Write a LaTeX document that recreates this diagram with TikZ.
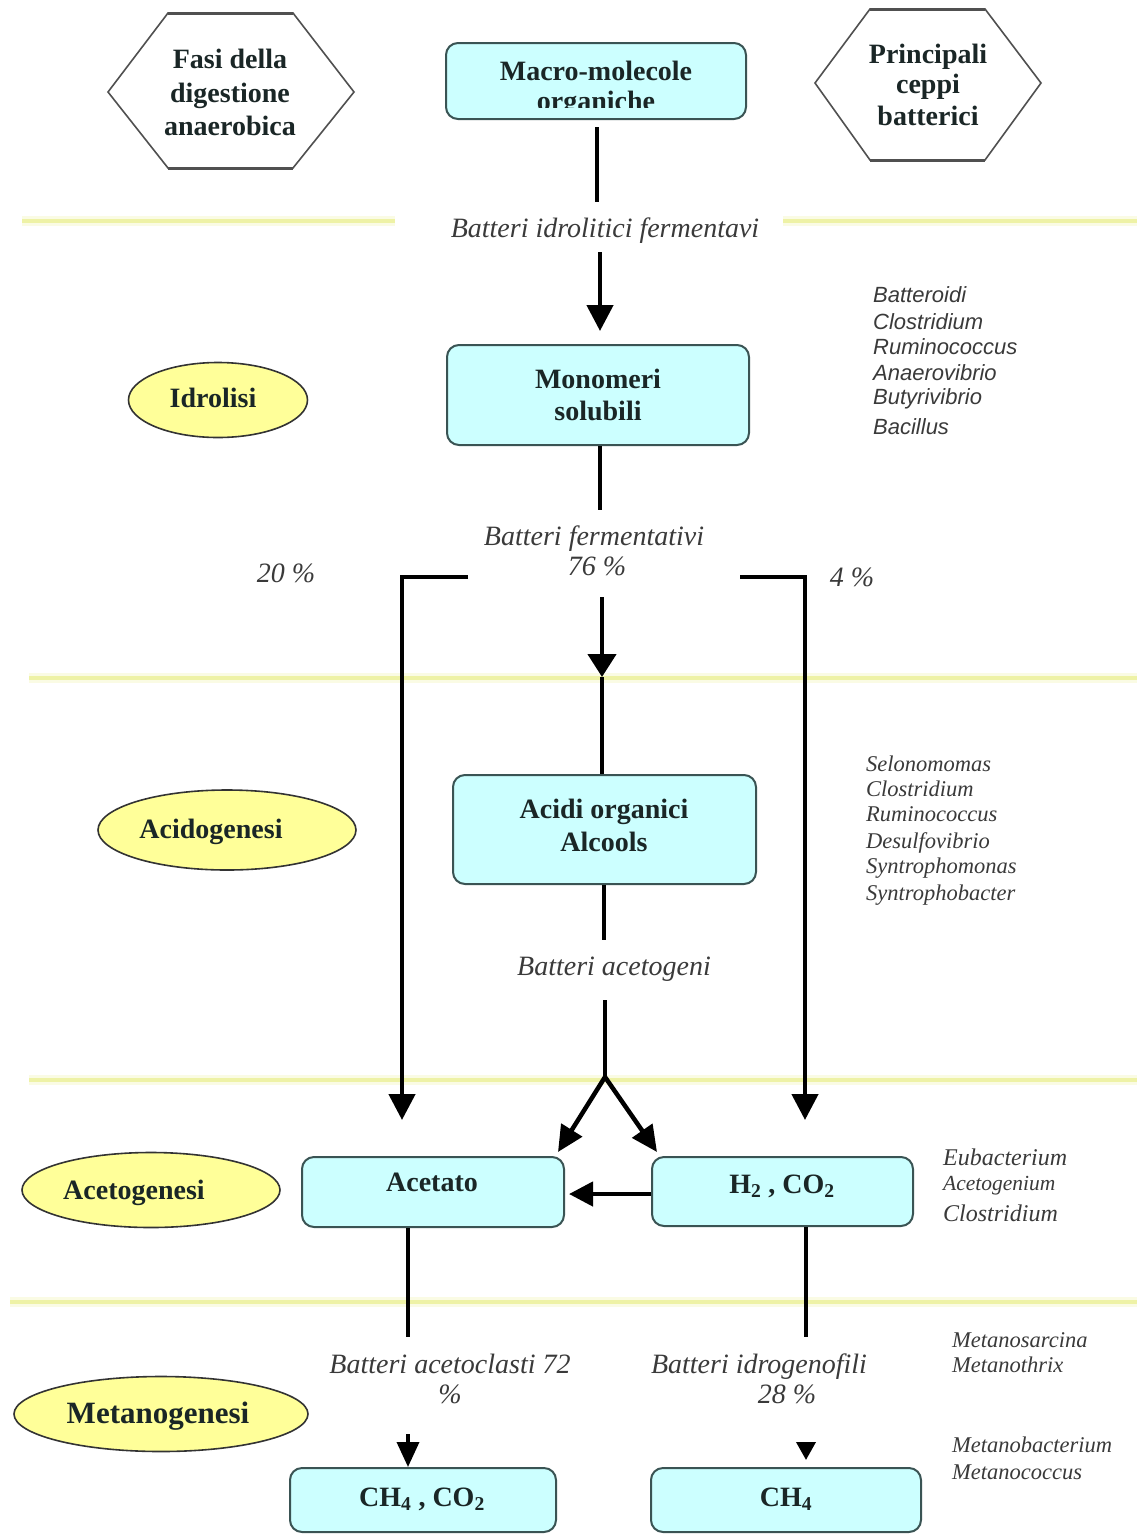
\documentclass[tikz,border=0pt]{standalone}
\usepackage{fontspec}
\setmainfont{Liberation Serif}
\setsansfont{Liberation Sans}
\usetikzlibrary{shapes.geometric,arrows.meta}

\definecolor{boxfill}{HTML}{CCFFFF}
\definecolor{boxline}{HTML}{3A5454}
\definecolor{phasefill}{HTML}{FFFF99}
\definecolor{phaseline}{HTML}{333333}
\definecolor{hexline}{HTML}{505050}
\definecolor{band}{HTML}{EEF2A6}
\definecolor{bandsoft}{HTML}{FAFBE4}
\definecolor{ink}{HTML}{1A2626}
\definecolor{note}{HTML}{3A3A3A}

\begin{document}
\begin{tikzpicture}[x=1pt,y=-1pt,
  box/.style={draw=boxline, fill=boxfill, rounded corners=12pt, line width=2pt, inner sep=0pt},
  phase/.style={ellipse, draw=phaseline, fill=phasefill, line width=1.6pt, inner sep=0pt},
  btxt/.style={font=\fontsize{28}{33}\selectfont\bfseries, text=ink, inner sep=0pt, anchor=base},
  itxt/.style={font=\fontsize{28}{31}\selectfont\itshape, text=note, inner sep=0pt, anchor=base},
  slist/.style={font=\sffamily\itshape\fontsize{22}{26}\selectfont, text=note, inner sep=0pt, anchor=base west},
  rlist/.style={font=\itshape\fontsize{22.5}{26}\selectfont, text=note, inner sep=0pt, anchor=base west},
  conn/.style={line width=4.5pt, black},
  thinconn/.style={line width=3.6pt, black},
  arr/.style={conn, -{Triangle[length=26pt,width=26pt]}},
  arrsmall/.style={thinconn, -{Triangle[length=25pt,width=22pt]}},
  bandsoftline/.style={draw=bandsoft, line width=10pt},
  bandline/.style={draw=band, line width=4pt},
]
\useasboundingbox (0,0) rectangle (1137,1535);
\fill[white] (0,0) rectangle (1137,1535);

% phase separators
\foreach \ya/\xa/\xb in {221/22/395, 221/783/1137, 678/29/1137, 1080/29/1137, 1302/10/1137} {
  \draw[bandsoftline] (\xa,\ya) -- (\xb,\ya);
  \draw[bandline] (\xa,\ya) -- (\xb,\ya);
}

% header hexagons
\draw[hexline, line width=1.6pt] (108,92) -- (168,13) -- (293,13) -- (354,92) -- (293,168) -- (168,168) -- cycle;
\draw[hexline, line width=3pt] (168,13) -- (293,13) (168,168) -- (293,168);
\node[btxt] (fasi1) at (230,68) {Fasi della};
\node[btxt] (fasi2) at (230,102) {digestione};
\node[btxt] (fasi3) at (230,135) {anaerobica};

\draw[hexline, line width=1.6pt] (815,83) -- (870,9) -- (985,9) -- (1041,83) -- (985,160) -- (870,160) -- cycle;
\draw[hexline, line width=3pt] (870,9) -- (985,9) (870,160) -- (985,160);
\node[btxt] (cep1) at (928,63) {Principali};
\node[btxt] (cep2) at (928,93) {ceppi};
\node[btxt] (cep3) at (928,125) {batterici};

% substrate boxes
\node[box, minimum width=300pt, minimum height=76pt] (macro) at (596,81) {};
\begin{scope}
  \clip (446,43) rectangle (746,107);
  \node[btxt] (macro1) at (596,80) {Macro-molecole};
  \node[btxt] (macro2) at (596,110) {organiche};
\end{scope}

\node[box, minimum width=302pt, minimum height=100pt] (mono) at (598,395) {};
\node[btxt] (mono1) at (598,388) {Monomeri};
\node[btxt] (mono2) at (598,420) {solubili};

\node[box, minimum width=303pt, minimum height=109pt] (acidi) at (604.5,829.5) {};
\node[btxt] (acidi1) at (604,818) {Acidi organici};
\node[btxt] (acidi2) at (604,851) {Alcools};

\node[box, minimum width=262pt, minimum height=70pt] (acet) at (433,1192) {};
\node[btxt] (acet1) at (432,1191) {Acetato};

\node[box, minimum width=261pt, minimum height=69pt] (h2) at (782.5,1191.5) {};
\node[btxt] (h21) at (782,1193) {H\textsubscript{2} , CO\textsubscript{2}};

\node[box, minimum width=266pt, minimum height=64pt] (ch4co2) at (423,1500) {};
\node[btxt] (ch4co21) at (422,1506) {CH\textsubscript{4} , CO\textsubscript{2}};

\node[box, minimum width=270pt, minimum height=64pt] (ch4) at (786,1500) {};
\node[btxt] (ch41) at (786,1506) {CH\textsubscript{4}};

% phase ellipses
\node[phase, minimum width=179pt, minimum height=75pt] (idro) at (218,400) {};
\node[btxt] (idro1) at (213,407) {Idrolisi};
\node[phase, minimum width=258pt, minimum height=80pt] (acido) at (227,830) {};
\node[btxt] (acido1) at (211,838) {Acidogenesi};
\node[phase, minimum width=258pt, minimum height=75pt] (aceto) at (151,1190) {};
\node[btxt] (aceto1) at (134,1199) {Acetogenesi};
\node[phase, minimum width=294pt, minimum height=75pt] (metano) at (161,1414) {};
\node[btxt, font=\fontsize{31}{33}\selectfont\bfseries] (metano1) at (158,1423) {Metanogenesi};

% bacteria labels on the flow
\node[itxt] (lidro) at (605,237) {Batteri idrolitici fermentavi};
\node[itxt] (lferm) at (594,545) {Batteri fermentativi};
\node[itxt] (lferm2) at (597,575) {76 \%};
\node[itxt] (lventi) at (286,582) {20 \%};
\node[itxt] (lquattro) at (852,586) {4 \%};
\node[itxt] (lacet) at (614,975) {Batteri acetogeni};
\node[itxt] (lclast) at (450,1373) {Batteri acetoclasti 72};
\node[itxt] (lclast2) at (450,1403) {\%};
\node[itxt] (lidrog) at (759,1373) {Batteri idrogenofili};
\node[itxt] (lidrog2) at (787,1403) {28 \%};

% bacterial strains
\foreach \t/\yy [count=\i] in {Batteroidi/302, Clostridium/329, Ruminococcus/354, Anaerovibrio/380, Butyrivibrio/404, Bacillus/434}
  \node[slist] (sa\i) at (873,\yy) {\t};
\foreach \t/\yy [count=\i] in {Selonomomas/771, Clostridium/796, Ruminococcus/821, Desulfovibrio/848, Syntrophomonas/873, Syntrophobacter/900}
  \node[rlist] (sb\i) at (866,\yy) {\t};
\node[rlist, font=\itshape\fontsize{24}{26}\selectfont] (sc1) at (943,1165) {Eubacterium};
\node[rlist, font=\itshape\fontsize{21.5}{26}\selectfont] (sc2) at (943,1190) {Acetogenium};
\node[rlist, font=\itshape\fontsize{24}{26}\selectfont] (sc3) at (943,1221) {Clostridium};
\node[rlist] (sd1) at (952,1347) {Metanosarcina};
\node[rlist] (sd2) at (952,1372) {Metanothrix};
\node[rlist] (sd3) at (952,1452) {Metanobacterium};
\node[rlist] (sd4) at (952,1479) {Metanococcus};

% connector end points
\coordinate (m1) at (597,127);
\coordinate (m2) at (597,202);
\coordinate (a1) at (600,252);
\coordinate (f1) at (600,510);
\coordinate (bl0) at (468,577);
\coordinate (bl1) at (402,577);
\coordinate (bl2) at (402,1120);
\coordinate (br0) at (740,577);
\coordinate (br1) at (805,577);
\coordinate (br2) at (805,1120);
\coordinate (c1) at (602,597);
\coordinate (c2) at (602,677);
\coordinate (g1) at (604,940);
\coordinate (g2) at (605,1000);
\coordinate (fork) at (605,1077);
\coordinate (p1) at (408,1337);
\coordinate (p2) at (806,1337);
\coordinate (q1) at (408,1434);
\coordinate (q2) at (806,1442);
\coordinate (q3) at (806,1460);

% flow connectors
\draw[conn] (m1) -- (m2);
\draw[arr] (a1) -- ([yshift=13pt]mono.north -| a1);
\draw[conn] (mono.south -| f1) -- (f1);
\draw[arr] (bl0) -- (bl1) -- (bl2);
\draw[arr] (br0) -- (br1) -- (br2);
\draw[arr, -{Triangle[length=23pt,width=28pt]}] (c1) -- (c2);
\draw[conn] (c2) -- (acidi.north -| c2);
\draw[conn] (acidi.south -| g1) -- (g1);
\draw[conn] (g2) -- (fork);
\draw[arr, -{Triangle[length=26pt,width=24pt]}] (fork) -- ([shift={(-7pt,4pt)}]acet.north east);
\draw[arr, -{Triangle[length=26pt,width=24pt]}] (fork) -- ([shift={(6pt,4pt)}]h2.north west);
\draw[arr, -{Triangle[length=24pt,width=24pt]}] (h2.west |- 0,1194) -- ([xshift=4pt]acet.east |- 0,1194);
\draw[thinconn] (acet.south -| p1) -- (p1);
\draw[thinconn] (h2.south -| p2) -- (p2);
\draw[arrsmall] (q1) -- (ch4co2.north -| q1);
\draw[thinconn, -{Triangle[length=18pt,width=19pt]}] (q2) -- (q3);
\end{tikzpicture}
\end{document}
